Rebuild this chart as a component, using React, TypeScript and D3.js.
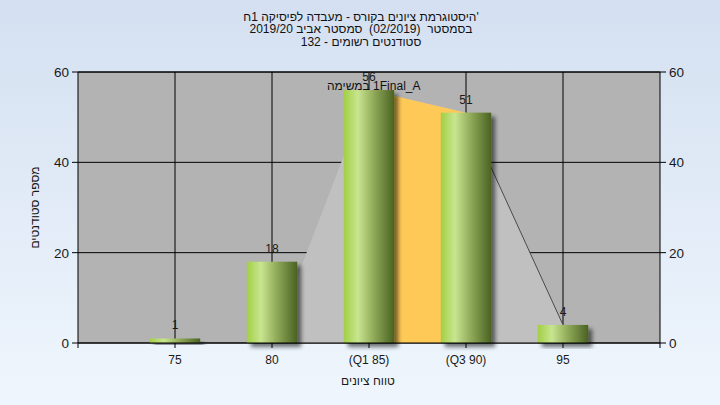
import React from "react";
import * as d3 from "d3";

const categories = [75, 80, 85, 90, 95];
const tickLabels = ["75", "80", "(Q1 85)", "(Q3 90)", "95"];
const counts = [1, 18, 56, 51, 4];
const areaX = [80, 85, 90, 95];
const areaY = [0, 56, 51, 4];
const q1 = 85;
const q3 = 90;
const yTicks = [0, 20, 40, 60];
const titleLines = [
  "'היסטוגרמת ציונים בקורס - מעבדה לפיסיקה 1ח",
  "בסמסטר  (02/2019)  סמסטר אביב 2019/20",
  "סטודנטים רשומים - 132",
];
const xTitle = "טווח ציונים";
const yTitle = "מספר סטודנטים";
const annotation = ["במשימה", "1Final_A"];

const W = 720;
const H = 405;
const L = 78, R = 660, T = 72, B = 343;
const FONT = "'Liberation Sans', Arial, sans-serif";

let ctx: CanvasRenderingContext2D | null = null;
function measure(s: string, size: number): number {
  if (!ctx) {
    const c = document.createElement("canvas");
    ctx = c.getContext("2d");
  }
  if (!ctx) return s.length * size * 0.55;
  ctx.font = `${size}px 'Liberation Sans', Arial, sans-serif`;
  return ctx.measureText(s).width;
}

function WordLine({ words, x0, y, size }: { words: string[]; x0: number; y: number; size: number }) {
  const space = measure(" ", size);
  const widths = words.map((w) => measure(w, size));
  let cur = x0;
  const items = words.map((w, i) => {
    const el = (
      <text key={i} x={cur + widths[i] / 2} y={y} textAnchor="middle" fontSize={size} fill="#111">
        {w}
      </text>
    );
    cur += widths[i] + space;
    return el;
  });
  return <g>{items}</g>;
}

export default function App() {
  const x = d3.scaleLinear().domain([70, 100]).range([L, R]);
  const y = d3.scaleLinear().domain([0, 60]).range([B, T]);
  const bw = x(2.6) - x(0);

  const pts: [number, number][] = areaX.map((v, i) => [v, areaY[i]]);
  const areaGen = d3
    .area<[number, number]>()
    .x((d) => x(d[0]))
    .y0(y(0))
    .y1((d) => y(d[1]));
  const grayPath = areaGen(pts) || "";
  const orangePts = pts.filter((d) => d[0] >= q1 && d[0] <= q3);
  const orangePath = areaGen(orangePts) || "";
  const linePts = pts.filter((d) => d[0] >= q3);
  const linePath =
    d3
      .line<[number, number]>()
      .x((d) => x(d[0]))
      .y((d) => y(d[1]))(linePts) || "";

  return (
    <svg width={W} height={H} style={{ position: "absolute", left: 0, top: 0 }} fontFamily={FONT}>
      <defs>
        <linearGradient id="bg" x1="0" y1="0" x2="0" y2="1">
          <stop offset="0%" stopColor="#d4e0f1" />
          <stop offset="100%" stopColor="#eff6fd" />
        </linearGradient>
        <linearGradient id="bar" x1="0" y1="0" x2="1" y2="0">
          <stop offset="0%" stopColor="#a2cf45" />
          <stop offset="28%" stopColor="#c8e590" />
          <stop offset="60%" stopColor="#8fa958" />
          <stop offset="100%" stopColor="#4a6222" />
        </linearGradient>
        <filter id="shadow" x="-20%" y="-20%" width="150%" height="150%">
          <feGaussianBlur in="SourceAlpha" stdDeviation="2" />
          <feOffset dx="4" dy="4" result="ob" />
          <feComponentTransfer>
            <feFuncA type="linear" slope="0.55" />
          </feComponentTransfer>
          <feMerge>
            <feMergeNode />
            <feMergeNode in="SourceGraphic" />
          </feMerge>
        </filter>
      </defs>
      <rect x={0} y={0} width={W} height={H} fill="url(#bg)" />

      {/* titles */}
      {titleLines.map((t, i) => (
        <text
          key={i}
          x={361}
          y={20.5 + i * 12.5}
          textAnchor="middle"
          fontSize={12}
          fill="#111"
          direction="rtl"
          style={{ direction: "rtl", unicodeBidi: "embed", whiteSpace: "pre" }}
        >
          {t}
        </text>
      ))}

      {/* plot background */}
      <rect x={L} y={T} width={R - L} height={B - T} fill="#b3b3b3" />

      {/* grid */}
      {yTicks.map((t) => (
        <line key={"gy" + t} x1={L} x2={R} y1={y(t)} y2={y(t)} stroke="#000" strokeWidth={1} />
      ))}
      {categories.map((c) => (
        <line key={"gx" + c} x1={x(c)} x2={x(c)} y1={T} y2={B} stroke="#000" strokeWidth={1} />
      ))}

      {/* area */}
      <path d={grayPath} fill="#c0c0c0" />
      <path d={orangePath} fill="#ffc957" />
      <path d={linePath} fill="none" stroke="#4a4a4a" strokeWidth={1} />

      {/* bars */}
      {categories.map((c, i) => (
        <rect
          key={"b" + c}
          x={x(c) - bw / 2}
          y={y(counts[i])}
          width={bw}
          height={y(0) - y(counts[i])}
          fill="url(#bar)"
          filter="url(#shadow)"
        />
      ))}

      {/* bar labels */}
      {categories.map((c, i) => (
        <text key={"l" + c} x={x(c)} y={y(counts[i]) - 9} textAnchor="middle" fontSize={12} fill="#1a1a1a">
          {counts[i]}
        </text>
      ))}

      <WordLine words={annotation} x0={327} y={90} size={12} />

      {/* axes */}
      <line x1={L} x2={R} y1={B} y2={B} stroke="#000" />
      <line x1={L} x2={R} y1={T} y2={T} stroke="#000" />
      <line x1={L} x2={L} y1={T} y2={B + 5} stroke="#000" />
      <line x1={R} x2={R} y1={T} y2={B + 5} stroke="#000" />
      {yTicks.map((t) => (
        <g key={"yt" + t}>
          <line x1={L - 6} x2={L} y1={y(t)} y2={y(t)} stroke="#000" />
          <line x1={R} x2={R + 6} y1={y(t)} y2={y(t)} stroke="#000" />
          <text x={L - 9} y={y(t) + 5} textAnchor="end" fontSize={13.5} fill="#1a1a1a">
            {t}
          </text>
          <text x={R + 9} y={y(t) + 5} textAnchor="start" fontSize={13.5} fill="#1a1a1a">
            {t}
          </text>
        </g>
      ))}
      {categories.map((c, i) => (
        <g key={"xt" + c}>
          <line x1={x(c)} x2={x(c)} y1={B} y2={B + 5} stroke="#000" />
          <text x={x(c)} y={364} textAnchor="middle" fontSize={12} fill="#1a1a1a">
            {tickLabels[i]}
          </text>
        </g>
      ))}

      <text
        x={368}
        y={385}
        textAnchor="middle"
        fontSize={12}
        fill="#1a1a1a"
        direction="rtl"
        style={{ direction: "rtl", unicodeBidi: "embed" }}
      >
        {xTitle}
      </text>
      <text
        transform={`translate(39, ${(T + B) / 2}) rotate(-90)`}
        textAnchor="middle"
        fontSize={12}
        fill="#1a1a1a"
      >
        {yTitle}
      </text>
    </svg>
  );
}
